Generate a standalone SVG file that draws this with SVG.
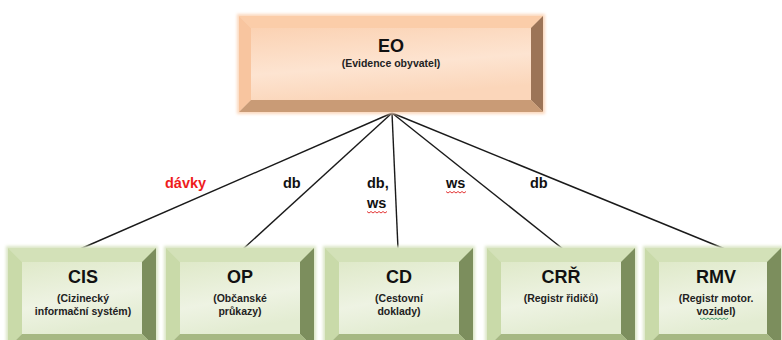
<svg xmlns="http://www.w3.org/2000/svg" width="782" height="340" viewBox="0 0 782 340">
  <defs>
    <linearGradient id="faceOrange" x1="0" y1="0" x2="0.3" y2="1">
      <stop offset="0" stop-color="#fbd2b3"/>
      <stop offset="0.6" stop-color="#fde4d1"/>
      <stop offset="1" stop-color="#fbd6ba"/>
    </linearGradient>
    <linearGradient id="faceGreen" x1="0" y1="0" x2="0.3" y2="1">
      <stop offset="0" stop-color="#dfe9c9"/>
      <stop offset="0.6" stop-color="#eef3e3"/>
      <stop offset="1" stop-color="#e3ecd2"/>
    </linearGradient>
    <filter id="soft" x="-5%" y="-5%" width="110%" height="110%">
      <feGaussianBlur stdDeviation="1.5"/>
    </filter>
  </defs>
  <style>
    .o-top { fill: #fbcda9; }
    .o-left { fill: #f8c59f; }
    .o-right { fill: #9c7457; }
    .o-bottom { fill: #c99b76; }
    .g-top { fill: #d3e1b8; }
    .g-left { fill: #c9daa9; }
    .g-right { fill: #7c8e5d; }
    .g-bottom { fill: #a6b883; }
    .halo-o { fill: #fbd8bd; filter: url(#soft); }
    .halo-g { fill: #dbe6c6; filter: url(#soft); }
    .title { font-family: "Liberation Sans", Arial, sans-serif; font-weight: bold; font-size: 18px; fill: #111; text-anchor: middle; }
    .sub { font-family: "Liberation Sans", Arial, sans-serif; font-weight: bold; font-size: 10.5px; fill: #222; text-anchor: middle; }
    .lbl { font-family: "Liberation Sans", Arial, sans-serif; font-weight: bold; font-size: 14.5px; fill: #111; }
    .lbl-red { fill: #ee1c1c; }
    .edge { stroke: #1a1a1a; stroke-width: 1.4; fill: none; }
    .squig { stroke: #e02020; stroke-width: 0.9; fill: none; }
    .squig-g { stroke: #3c9a6a; stroke-width: 0.9; fill: none; }
  </style>

  <!-- connectors from EO to each registry -->
  <g id="connectors">
    <line class="edge" x1="392" y1="113" x2="80" y2="249"/>
    <line class="edge" x1="392" y1="113" x2="243" y2="249"/>
    <line class="edge" x1="392" y1="113" x2="398" y2="249"/>
    <line class="edge" x1="392" y1="113" x2="563" y2="249"/>
    <line class="edge" x1="392" y1="113" x2="725" y2="249"/>
    <text class="lbl lbl-red" x="165" y="188">dávky</text>
    <text class="lbl" x="283" y="188">db</text>
    <text class="lbl" x="367" y="188">db,</text>
    <text class="lbl" x="367" y="208">ws</text>
    <path class="squig" d="M367 211.5 l2 1.5 l2 -1.5 l2 1.5 l2 -1.5 l2 1.5 l2 -1.5 l2 1.5 l2 -1.5 l2 1.5 l2 -1.5"/>
    <text class="lbl" x="446" y="188">ws</text>
    <path class="squig" d="M446 191.5 l2 1.5 l2 -1.5 l2 1.5 l2 -1.5 l2 1.5 l2 -1.5 l2 1.5 l2 -1.5 l2 1.5 l2 -1.5"/>
    <text class="lbl" x="530" y="188">db</text>
  </g>

  <!-- EO: 239,16 304x96, bevel 12 -->
  <g id="node-eo">
    <rect class="halo-o" x="237" y="14" width="308" height="100"/>
    <polygon class="o-top" points="239,16 543,16 531,28 251,28"/>
    <polygon class="o-left" points="239,16 251,28 251,100 239,112"/>
    <polygon class="o-right" points="543,16 543,112 531,100 531,28"/>
    <polygon class="o-bottom" points="239,112 251,100 531,100 543,112"/>
    <rect x="251" y="28" width="280" height="72" fill="url(#faceOrange)"/>
    <text class="title" x="391" y="52">EO</text>
    <text class="sub" x="391" y="67">(Evidence obyvatel)</text>
  </g>

  <!-- CIS: 8,248 148x100, bevel 14 -->
  <g id="node-cis">
    <rect class="halo-g" x="6" y="246" width="152" height="104"/>
    <polygon class="g-top" points="8,248 156,248 142,262 22,262"/>
    <polygon class="g-left" points="8,248 22,262 22,334 8,348"/>
    <polygon class="g-right" points="156,248 156,348 142,334 142,262"/>
    <polygon class="g-bottom" points="8,348 22,334 142,334 156,348"/>
    <rect x="22" y="262" width="120" height="72" fill="url(#faceGreen)"/>
    <text class="title" x="83" y="283">CIS</text>
    <text class="sub" x="83" y="302">(Cizinecký</text>
    <text class="sub" x="83" y="315">informační systém)</text>
  </g>

  <!-- OP: 166,248 148x100 -->
  <g id="node-op">
    <rect class="halo-g" x="164" y="246" width="152" height="104"/>
    <polygon class="g-top" points="166,248 314,248 300,262 180,262"/>
    <polygon class="g-left" points="166,248 180,262 180,334 166,348"/>
    <polygon class="g-right" points="314,248 314,348 300,334 300,262"/>
    <polygon class="g-bottom" points="166,348 180,334 300,334 314,348"/>
    <rect x="180" y="262" width="120" height="72" fill="url(#faceGreen)"/>
    <text class="title" x="240" y="283">OP</text>
    <text class="sub" x="240" y="302">(Občanské</text>
    <text class="sub" x="240" y="315">průkazy)</text>
  </g>

  <!-- CD: 325,248 148x100 -->
  <g id="node-cd">
    <rect class="halo-g" x="323" y="246" width="152" height="104"/>
    <polygon class="g-top" points="325,248 473,248 459,262 339,262"/>
    <polygon class="g-left" points="325,248 339,262 339,334 325,348"/>
    <polygon class="g-right" points="473,248 473,348 459,334 459,262"/>
    <polygon class="g-bottom" points="325,348 339,334 459,334 473,348"/>
    <rect x="339" y="262" width="120" height="72" fill="url(#faceGreen)"/>
    <text class="title" x="399" y="283">CD</text>
    <text class="sub" x="399" y="302">(Cestovní</text>
    <text class="sub" x="399" y="315">doklady)</text>
  </g>

  <!-- CRŘ: 487,248 148x100 -->
  <g id="node-crr">
    <rect class="halo-g" x="485" y="246" width="152" height="104"/>
    <polygon class="g-top" points="487,248 635,248 621,262 501,262"/>
    <polygon class="g-left" points="487,248 501,262 501,334 487,348"/>
    <polygon class="g-right" points="635,248 635,348 621,334 621,262"/>
    <polygon class="g-bottom" points="487,348 501,334 621,334 635,348"/>
    <rect x="501" y="262" width="120" height="72" fill="url(#faceGreen)"/>
    <text class="title" x="561" y="283">CRŘ</text>
    <text class="sub" x="561" y="302">(Registr řidičů)</text>
  </g>

  <!-- RMV: 645,248 136x100 -->
  <g id="node-rmv">
    <rect class="halo-g" x="643" y="246" width="140" height="104"/>
    <polygon class="g-top" points="645,248 781,248 767,262 659,262"/>
    <polygon class="g-left" points="645,248 659,262 659,334 645,348"/>
    <polygon class="g-right" points="781,248 781,348 767,334 767,262"/>
    <polygon class="g-bottom" points="645,348 659,334 767,334 781,348"/>
    <rect x="659" y="262" width="108" height="72" fill="url(#faceGreen)"/>
    <text class="title" x="716" y="283">RMV</text>
    <text class="sub" x="716" y="302">(Registr motor.</text>
    <text class="sub" x="716" y="315">vozidel)</text>
    <path class="squig-g" d="M700 318 l2 1.5 l2 -1.5 l2 1.5 l2 -1.5 l2 1.5 l2 -1.5 l2 1.5 l2 -1.5 l2 1.5 l2 -1.5 l2 1.5 l2 -1.5 l2 1.5 l2 -1.5"/>
  </g>
</svg>
